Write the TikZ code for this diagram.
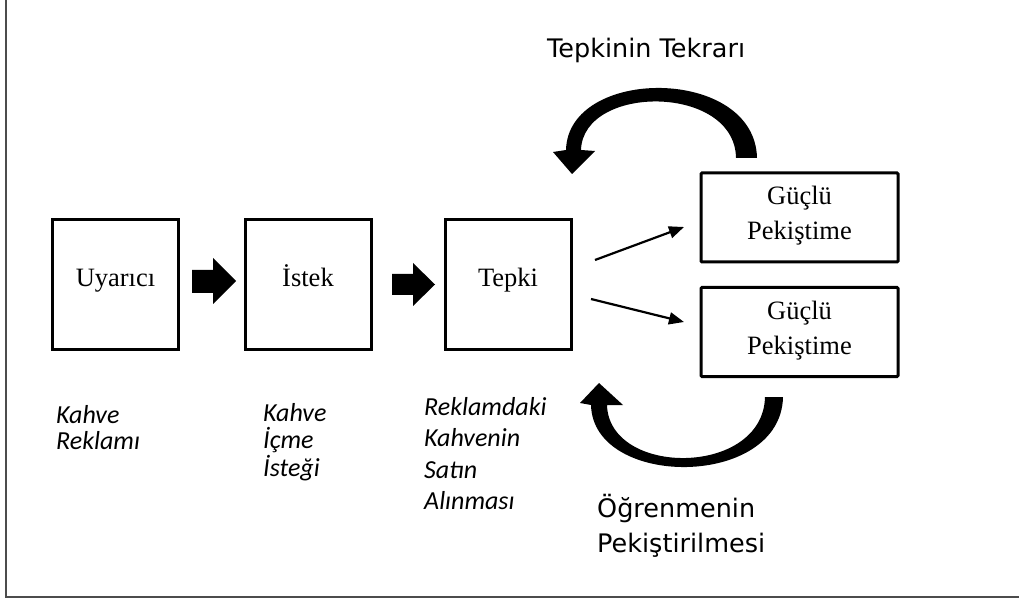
\documentclass[tikz,border=0pt]{standalone}
\usepackage{fontspec}
\setmainfont{Liberation Serif}
\newfontfamily\calfont{Carlito}
\newfontfamily\comicfont{DejaVu Sans}
\usetikzlibrary{arrows.meta,calc}
\begin{document}
\begin{tikzpicture}[x=1pt,y=-1pt,
  box/.style={draw, line width=3pt, inner sep=0pt, align=center,
    font=\fontsize{26.5}{30}\selectfont},
  sqbox/.style={box, minimum width=126pt, minimum height=130pt, text height=19pt, text depth=14pt},
  widebox/.style={box, minimum width=197pt, minimum height=89pt, rounded corners=1pt, text height=48pt, text depth=3pt},
  note/.style={inner sep=0pt, align=left, anchor=north west, font=\calfont\itshape\fontsize{26}{31.5}\selectfont},
  comic/.style={inner sep=0pt, align=left, font=\comicfont\fontsize{25.5}{35}\selectfont},
  thin/.style={line width=2.2pt, -{Triangle[length=15pt,width=12pt]}},
  frame/.style={line width=1.6pt, draw=black!70}]
\useasboundingbox (0,0) rectangle (1019,601);
% frame
\draw[frame] (6,0) -- (6,597) -- (1019,597);
% boxes
\node[sqbox] (uyarici) at (115.5,284.5) {Uyarıcı};
\node[sqbox] (istek) at (308,284.5) {İstek};
\node[sqbox] (tepki) at (508,284.5) {Tepki};
\node[widebox] (g1) at (799.5,217.5) {Güçlü\\[5pt]Pekiştime};
\node[widebox] (g2) at (799.5,332) {Güçlü\\[5pt]Pekiştime};
% block arrows
\fill (192,270) -- (213,270) -- (213,258) -- (236,281) -- (213,304) -- (213,293) -- (192,293) -- cycle;
\fill (392,274) -- (413,274) -- (413,263) -- (435,284.5) -- (413,306) -- (413,295) -- (392,295) -- cycle;
% thin arrows
\coordinate (a1s) at (595,260);
\coordinate (a1e) at (684,227);
\coordinate (a2s) at (591,299);
\coordinate (a2e) at (684,322);
\draw[thin] (a1s) -- (a1e);
\draw[thin] (a2s) -- (a2e);
% curved arrows
\fill (757,158) .. controls (755,66) and (568,66) .. (566,150) -- (553,152) -- (572,174) -- (595,151) -- (581,150) .. controls (583,84) and (735,84) .. (736,158) -- cycle;
\fill (783,397) .. controls (781,489) and (593,489) .. (591,405) -- (580,403) -- (599,383) -- (623,405) -- (607,405) .. controls (609,477) and (763,477) .. (765,397) -- cycle;
% labels
\node[comic, anchor=base west] (tekrar) at (547,58) {Tepkinin Tekrarı};
\node[comic, anchor=north west] (ogren) at (597,494) {Öğrenmenin\\Pekiştirilmesi};
\node[note, font=\calfont\itshape\fontsize{26}{26}\selectfont] (n1) at (56,405) {Kahve\\Reklamı};
\node[note, font=\calfont\itshape\fontsize{26}{27.5}\selectfont] (n2) at (263,403) {Kahve\\İçme\\İsteği};
\node[note] (n3) at (424,397) {Reklamdaki\\Kahvenin\\Satın\\Alınması};
\end{tikzpicture}
\end{document}
